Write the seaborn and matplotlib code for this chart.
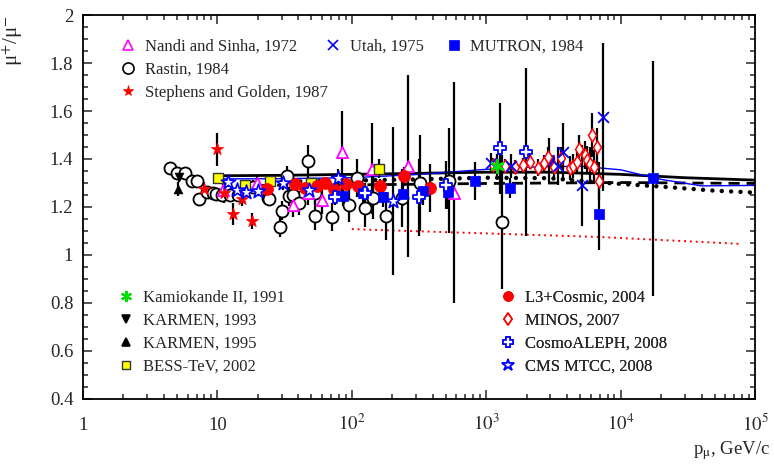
import numpy as np
import matplotlib
matplotlib.use("Agg")
import matplotlib.pyplot as plt
import seaborn as sns
from matplotlib.lines import Line2D
from matplotlib.ticker import MultipleLocator, LogLocator, NullFormatter, FuncFormatter

# ---- data: momentum (GeV/c), ratio, error ----
nandi_p = [11.0, 19.7, 36.6, 47, 60, 84, 141, 262, 577]
nandi_r = [1.27, 1.30, 1.21, 1.26, 1.23, 1.43, 1.36, 1.37, 1.26]
nandi_e = [0.03, 0.03, 0.05, 0.05, 0.06, 0.17, 0.19, 0.38, 0.46]

rastin_p = [4.44, 5.0, 5.7, 6.5, 7.0, 7.3, 8.4, 9.3, 9.8, 10.8, 12.4, 14.2, 18.4, 23.8, 24.2,
            29.2, 30, 33, 34, 36.6, 40.4, 47, 53, 53, 71, 95, 109, 125, 144, 180, 237,
            320, 530, 1310]
rastin_r = [1.362, 1.34, 1.34, 1.31, 1.31, 1.233, 1.263, 1.258, 1.254, 1.25, 1.25, 1.25, 1.283,
            1.237, 1.233, 1.117, 1.185, 1.33, 1.245, 1.25, 1.217, 1.39, 1.258, 1.163, 1.158,
            1.208, 1.321, 1.196, 1.238, 1.163, 1.237, 1.30, 1.31, 1.137]
rastin_e = [0.02, 0.02, 0.02, 0.02, 0.02, 0.02, 0.02, 0.02, 0.02, 0.02, 0.02, 0.025, 0.03,
            0.03, 0.03, 0.04, 0.04, 0.04, 0.04, 0.04, 0.05, 0.07, 0.05, 0.06, 0.06, 0.07,
            0.08, 0.08, 0.09, 0.1, 0.12, 0.2, 0.22, 0.28]

stephens_p = [7.9, 9.9, 11.2, 13.1, 15.2, 18.1]
stephens_r = [1.275, 1.44, 1.258, 1.171, 1.233, 1.142]
stephens_e = [0.03, 0.07, 0.04, 0.045, 0.03, 0.035]

utah_p = [1090, 1540, 3420, 3700, 5140, 7400]
utah_r = [1.383, 1.37, 1.37, 1.43, 1.29, 1.575]
utah_e = [0.04, 0.05, 0.08, 0.12, 0.17, 0.31]

mutron_p = [86, 121, 170, 240, 338, 520, 822, 1500, 2950, 6900, 17500]
mutron_r = [1.246, 1.258, 1.242, 1.254, 1.267, 1.263, 1.308, 1.279, 1.396, 1.171, 1.32]
mutron_e = [0.04, 0.04, 0.04, 0.05, 0.06, 0.07, 0.08, 0.04, 0.09, 0.15, 0.49]

kamiokande_p = [1200]
kamiokande_r = [1.37]
kamiokande_e = [0.05]

karmen93_p = [5.2]
karmen93_r = [1.325]
karmen93_e = [0.02]

karmen95_p = [5.1]
karmen95_r = [1.275]
karmen95_e = [0.03]

bess_p = [10.1, 16, 24.6, 50, 158]
bess_r = [1.32, 1.29, 1.31, 1.30, 1.36]
bess_e = [0.015, 0.02, 0.02, 0.02, 0.04]

l3_p = [23.4, 37.7, 45, 55, 63, 74, 90.6, 112, 162, 244, 383]
l3_r = [1.275, 1.296, 1.28, 1.288, 1.30, 1.275, 1.296, 1.288, 1.288, 1.328, 1.279]
l3_e = [0.02, 0.02, 0.02, 0.02, 0.02, 0.02, 0.025, 0.025, 0.03, 0.04, 0.1]

minos_p = [1120, 1370, 1640, 1880, 2130, 2420, 2670, 2900, 3200, 3600, 4170, 4430, 4700,
           4920, 5420, 5600, 5900, 6100, 6300, 6630, 6900]
minos_r = [1.375, 1.37, 1.367, 1.375, 1.388, 1.363, 1.383, 1.408, 1.367, 1.406, 1.363, 1.37,
           1.388, 1.44, 1.417, 1.396, 1.379, 1.50, 1.367, 1.45, 1.308]
minos_e = [0.03, 0.03, 0.03, 0.03, 0.03, 0.035, 0.035, 0.04, 0.04, 0.045, 0.05, 0.05, 0.05,
           0.06, 0.06, 0.06, 0.07, 0.09, 0.07, 0.08, 0.08]

aleph_p = [75, 125, 315, 500, 1260, 1990]
aleph_r = [1.24, 1.26, 1.24, 1.29, 1.445, 1.43]
aleph_e = [0.03, 0.04, 0.16, 0.10, 0.19, 0.35]

cms_p = [12, 14, 16.3, 20, 30.7, 48, 79, 202]
cms_r = [1.304, 1.27, 1.263, 1.267, 1.30, 1.27, 1.32, 1.225]
cms_e = [0.02, 0.02, 0.02, 0.02, 0.03, 0.03, 0.04, 0.31]

# model curves
solid_p = [10, 30, 100, 300, 1000, 3000, 10000, 30000, 100000]
solid_r = [1.330, 1.332, 1.336, 1.340, 1.345, 1.345, 1.336, 1.322, 1.312]
blue_p = [10, 30, 100, 300, 1000, 2000, 5000, 10000, 20000, 40000, 100000]
blue_r = [1.317, 1.318, 1.322, 1.335, 1.357, 1.366, 1.370, 1.355, 1.315, 1.288, 1.290]
dashed_p = [15, 100, 1000, 10000, 100000]
dashed_r = [1.29, 1.292, 1.298, 1.302, 1.298]
dotted_p = [30, 100, 300, 1000, 3000, 7000, 20000, 50000, 100000]
dotted_r = [1.305, 1.31, 1.315, 1.322, 1.32, 1.302, 1.285, 1.268, 1.26]
reddot_p = [100, 160, 1000, 7000, 80000]
reddot_r = [1.108, 1.104, 1.09, 1.075, 1.046]

sns.set_style("ticks")
plt.rcParams["font.family"] = ["Liberation Serif", "DejaVu Serif"]
plt.rcParams["mathtext.fontset"] = "stix"

fig, ax = plt.subplots(figsize=(7.74, 4.66), dpi=100)
fig.subplots_adjust(left=0.1072, right=0.9755, top=0.9678, bottom=0.1438)

# curves
sns.lineplot(x=solid_p, y=solid_r, ax=ax, color="black", lw=2, estimator=None, sort=False, zorder=1.5)
sns.lineplot(x=blue_p, y=blue_r, ax=ax, color="blue", lw=1, estimator=None, sort=False, zorder=1.6)
sns.lineplot(x=dashed_p, y=dashed_r, ax=ax, color="black", lw=2, linestyle=(0, (4, 2.5)),
             estimator=None, sort=False, zorder=1.5)
sns.lineplot(x=dotted_p, y=dotted_r, ax=ax, color="black", lw=3.2, linestyle=(0, (0.01, 2.1)),
             dash_capstyle="round", estimator=None, sort=False, zorder=1.5)
sns.lineplot(x=reddot_p, y=reddot_r, ax=ax, color="red", lw=1.4, linestyle=(0, (1, 2)),
             estimator=None, sort=False, zorder=1.5)

series = [
    (rastin_p, rastin_r, rastin_e, dict(marker="o", s=75, color="white", edgecolor="black", linewidth=1.3)),
    (nandi_p, nandi_r, nandi_e, dict(marker="^", s=65, color="white", edgecolor="magenta", linewidth=1.3)),
    (stephens_p, stephens_r, stephens_e, dict(marker="*", s=85, color="red", edgecolor="red", linewidth=0.5)),
    (karmen93_p, karmen93_r, karmen93_e, dict(marker="v", s=40, color="black", edgecolor="black")),
    (karmen95_p, karmen95_r, karmen95_e, dict(marker="^", s=40, color="black", edgecolor="black")),
    (bess_p, bess_r, bess_e, dict(marker="s", s=55, color="yellow", edgecolor="#333333", linewidth=1)),
    (l3_p, l3_r, l3_e, dict(marker="o", s=75, color="red", edgecolor="red", linewidth=0.5)),
    (mutron_p, mutron_r, mutron_e, dict(marker="s", s=60, color="blue", edgecolor="blue", linewidth=0.5)),
    (aleph_p, aleph_r, aleph_e, dict(marker="P", s=80, color="white", edgecolor="blue", linewidth=1.3)),
    (cms_p, cms_r, cms_e, dict(marker="*", s=115, color="white", edgecolor="blue", linewidth=1.2)),
    (minos_p, minos_r, minos_e, dict(marker="d", s=45, color="white", edgecolor="red", linewidth=1.1)),
    (utah_p, utah_r, utah_e, dict(marker="x", s=60, color="blue", linewidth=1.3)),
    (kamiokande_p, kamiokande_r, kamiokande_e, dict(marker=(6, 2, 0), s=80, color="#00dd00", linewidth=1.8)),
]

for p, r, e, style in series:
    ax.errorbar(p, r, yerr=e, fmt="none", ecolor="black", elinewidth=1.6, zorder=2)
for p, r, e, style in series:
    sns.scatterplot(x=p, y=r, ax=ax, zorder=3, legend=False, **style)

ax.set_xscale("log")
ax.set_xlim(1, 1e5)
ax.set_ylim(0.4, 2.0)

ax.set_xticks([1, 10, 100, 1000, 10000, 100000],
              labels=["1", "10", r"$10^{2}$", r"$10^{3}$", r"$10^{4}$", r"$10^{5}$"],
              va="baseline")
ax.xaxis.set_minor_locator(LogLocator(base=10, subs=np.arange(2, 10), numticks=100))
ax.xaxis.set_minor_formatter(NullFormatter())
ax.yaxis.set_major_locator(MultipleLocator(0.2))
ax.yaxis.set_minor_locator(MultipleLocator(0.05))
ax.yaxis.set_major_formatter(FuncFormatter(lambda v, pos: "%g" % round(v, 2)))

ax.tick_params(which="both", direction="in", top=True, right=True, width=1.1, labelsize=13.5)
ax.tick_params(which="major", length=6.5)
ax.tick_params(which="minor", length=3.5)
ax.tick_params(axis="x", which="major", pad=22)
ax.tick_params(axis="y", which="major", pad=7)
for s in ax.spines.values():
    s.set_linewidth(1.3)
    s.set_color("black")

ax.set_ylabel("μ$^{+}$/μ$^{-}$", fontsize=15, loc="top")
ax.yaxis.set_label_coords(-0.086, 1.0)
ax.set_xlabel("p$_{\\mathrm{\\mu}}$, GeV/c", fontsize=13.5, loc="right")
ax.xaxis.set_label_coords(1.022, -0.105)


def h(marker, fc, ec, ms=7, mew=1.2):
    return Line2D([], [], marker=marker, linestyle="none", markerfacecolor=fc,
                  markeredgecolor=ec, markersize=ms, markeredgewidth=mew)


leg_kw = dict(frameon=False, fontsize=12, borderpad=0, borderaxespad=0, handlelength=1.0,
              handletextpad=0.5, labelspacing=0.42, loc="upper left")

legends = [
    ([h("^", "white", "magenta"), h("o", "white", "black", 8), h("*", "red", "red", 8, 0.5)],
     ["Nandi and Sinha, 1972", "Rastin, 1984", "Stephens and Golden, 1987"], (0.055, 0.9375)),
    ([h("x", "blue", "blue")], ["Utah, 1975"], (0.360, 0.9375)),
    ([h("s", "blue", "blue", 7, 0.5)], ["MUTRON, 1984"], (0.539, 0.9375)),
    ([h((6, 2, 0), "#00dd00", "#00dd00", 8, 1.5), h("v", "black", "black", 6),
      h("^", "black", "black", 6), h("s", "yellow", "#333333", 6, 1)],
     ["Kamiokande II, 1991", "KARMEN, 1993", "KARMEN, 1995", "BESS-TeV, 2002"], (0.052, 0.284)),
    ([h("o", "red", "red", 7, 0.5), h("d", "white", "red", 6), h("P", "white", "blue", 7),
      h("*", "white", "blue", 9)],
     ["L3+Cosmic, 2004", "MINOS, 2007", "CosmoALEPH, 2008", "CMS MTCC, 2008"], (0.6205, 0.284)),
]
for handles, labels, anchor in legends:
    leg = ax.legend(handles, labels, bbox_to_anchor=anchor, **leg_kw)
    ax.add_artist(leg)

plt.savefig("out.png", dpi=100)
